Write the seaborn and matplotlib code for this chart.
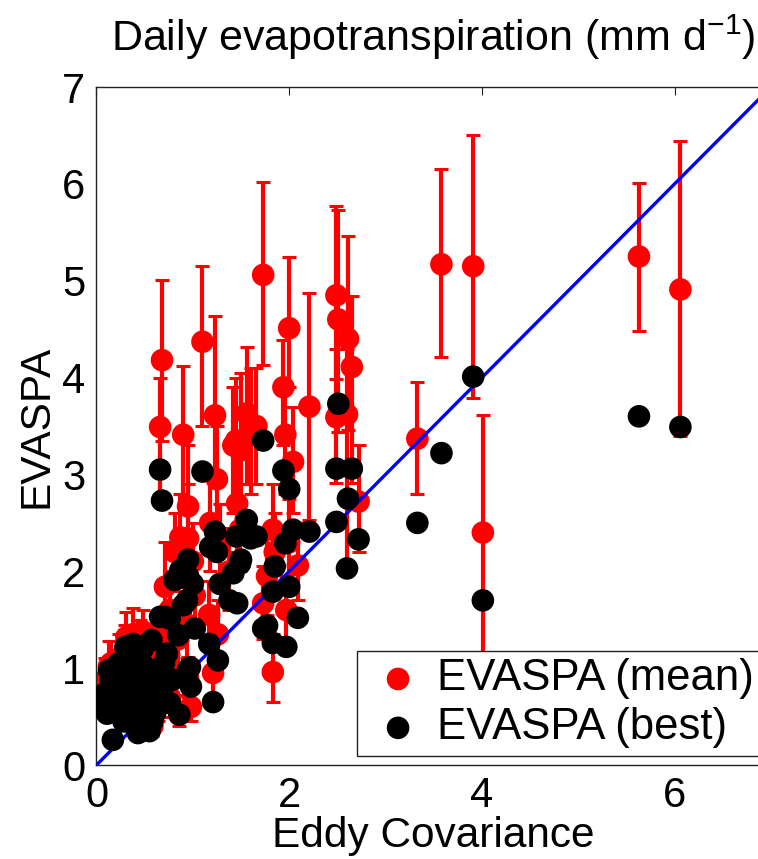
import numpy as np
import pandas as pd
import seaborn as sns
import matplotlib.pyplot as plt

# Eddy covariance ET, EVASPA mean (with lower/upper bounds) and EVASPA best, mm/d
ec = [3.33, 3.58, 3.91, 4.01, 5.63, 6.06,
      2.49, 2.51, 2.61, 2.65, 2.49, 2.60, 2.72,
      1.21, 1.26, 1.17, 1.02, 1.83, 1.97, 1.73, 1.77, 2.09, 2.00, 1.83, 1.85,
      0.66, 0.68, 0.90, 1.10, 1.23, 1.56, 1.45, 1.50, 1.60, 1.42, 1.66,
      0.95, 0.95, 0.97, 0.87, 0.81, 1.00, 0.94, 1.38, 1.28, 1.18, 1.25,
      1.49, 1.46, 0.71, 0.76, 1.94, 1.96, 2.04, 2.00, 2.21, 1.73,
      0.17, 0.43, 0.11, 0.09, 0.13, 0.30, 0.57, 0.57, 0.33, 0.61, 0.38,
      0.79, 0.23, 0.47, 0.73, 0.66, 0.85, 0.95, 0.98, 0.76, 0.38, 0.15,
      0.20, 0.27, 0.35, 0.42, 0.50, 0.52, 0.45, 0.62, 0.25, 0.40, 0.55,
      0.68, 0.31, 0.48, 0.20, 0.64, 0.70, 0.86, 0.05, 0.36, 0.58, 0.28]
evaspa_mean = [3.37, 5.17, 5.15, 2.40, 5.25, 4.91,
               4.85, 4.60, 4.40, 4.11, 3.59, 3.62, 2.72,
               0.95, 1.35, 1.55, 1.75, 0.96, 1.60, 1.67, 1.95, 2.06, 2.30, 2.43, 2.20,
               3.49, 4.18, 3.41, 4.37, 3.61, 3.63, 3.35, 3.25, 3.43, 3.30, 3.50,
               2.67, 2.34, 1.90, 2.35, 2.20, 2.10, 1.45, 2.00, 2.25, 2.50, 2.95,
               2.43, 2.70, 1.84, 1.60, 3.90, 3.41, 3.13, 4.51, 3.70, 5.06,
               0.72, 0.62, 0.78, 0.88, 1.02, 1.20, 1.18, 0.95, 0.85, 0.70, 0.65,
               0.92, 1.10, 1.08, 1.05, 1.40, 1.30, 0.90, 0.60, 0.70, 1.35, 1.05,
               0.60, 0.95, 1.15, 0.80, 0.55, 0.90, 1.25, 1.00, 0.75, 0.50, 0.45,
               0.85, 1.32, 1.38, 0.85, 0.62, 1.20, 0.55, 0.70, 0.72, 0.40, 0.55]
evaspa_low = [2.80, 4.21, 3.79, 0.90, 4.48, 3.40,
              3.99, 3.44, 3.46, 2.91, 2.91, 1.99, 2.20,
              0.70, 1.05, 1.20, 1.40, 0.65, 1.25, 1.30, 1.55, 1.70, 1.90, 2.00, 1.80,
              2.80, 3.35, 2.60, 3.50, 2.90, 2.90, 2.70, 2.55, 2.80, 2.60, 2.90,
              2.10, 1.80, 1.50, 1.90, 1.80, 1.70, 1.10, 1.60, 1.85, 2.00, 2.40,
              2.00, 2.20, 1.40, 1.20, 3.30, 2.80, 2.60, 3.90, 2.53, 4.13,
              0.55, 0.45, 0.60, 0.70, 0.80, 0.95, 0.95, 0.75, 0.65, 0.50, 0.48,
              0.70, 0.85, 0.85, 0.80, 1.15, 1.05, 0.70, 0.45, 0.50, 1.10, 0.85,
              0.45, 0.75, 0.92, 0.60, 0.40, 0.70, 1.00, 0.80, 0.58, 0.35, 0.32,
              0.65, 1.10, 1.15, 0.68, 0.45, 0.98, 0.40, 0.55, 0.55, 0.30, 0.42]
evaspa_high = [3.95, 6.15, 6.50, 3.61, 6.01, 6.44,
               5.77, 5.73, 5.46, 4.84, 4.30, 4.30, 3.30,
               1.30, 1.70, 1.90, 2.10, 1.35, 1.95, 2.05, 2.35, 2.50, 2.75, 2.90, 2.60,
               4.00, 5.01, 4.12, 5.15, 4.64, 4.32, 4.00, 4.05, 4.10, 3.90, 4.10,
               3.30, 2.90, 2.30, 2.80, 2.60, 2.50, 1.80, 2.45, 2.70, 3.00, 3.50,
               2.90, 3.20, 2.30, 2.00, 4.39, 3.90, 3.70, 5.25, 4.87, 6.02,
               0.95, 0.80, 1.00, 1.10, 1.28, 1.45, 1.45, 1.20, 1.10, 0.90, 0.85,
               1.15, 1.35, 1.30, 1.30, 1.60, 1.55, 1.12, 0.78, 0.92, 1.62, 1.28,
               0.78, 1.20, 1.40, 1.00, 0.72, 1.12, 1.50, 1.25, 0.95, 0.68, 0.60,
               1.05, 1.58, 1.60, 1.05, 0.82, 1.42, 0.72, 0.88, 0.92, 0.55, 0.70]
evaspa_best = [2.50, 3.22, 4.01, 1.70, 3.60, 3.49,
               3.06, 3.73, 2.75, 3.06, 2.51, 2.03, 2.33,
               0.65, 1.08, 1.25, 1.41, 1.26, 1.22, 1.41, 1.44, 1.52, 1.84, 1.79, 2.05,
               3.05, 2.73, 1.65, 3.03, 2.41, 2.53, 2.36, 2.12, 2.34, 1.98, 2.36,
               1.95, 2.12, 1.01, 2.01, 1.91, 1.87, 1.70, 1.70, 1.87, 2.25, 2.20,
               2.08, 1.67, 1.53, 1.51, 3.04, 2.29, 2.43, 2.85, 2.41, 3.35,
               0.26, 0.33, 0.53, 0.74, 0.98, 1.22, 1.29, 0.98, 0.77, 0.54, 0.46,
               0.88, 1.05, 1.05, 1.15, 1.53, 1.34, 0.98, 0.81, 0.64, 1.25, 0.88,
               0.65, 0.92, 1.02, 0.85, 0.62, 0.75, 1.15, 0.92, 0.58, 0.40, 0.35,
               0.78, 1.12, 1.20, 0.82, 0.68, 1.05, 0.52, 0.65, 0.60, 0.45, 0.45]

df = pd.DataFrame({"ec": ec, "mean": evaspa_mean, "low": evaspa_low,
                   "high": evaspa_high, "best": evaspa_best})

sns.set_style("white")
plt.rcParams["font.family"] = ["Liberation Sans", "DejaVu Sans"]
plt.rcParams["mathtext.default"] = "regular"
plt.rcParams["text.color"] = "black"
plt.rcParams["axes.labelcolor"] = "black"
plt.rcParams["xtick.labelcolor"] = "black"
plt.rcParams["ytick.labelcolor"] = "black"

fig = plt.figure(figsize=(7.58, 8.59), dpi=100)
ax = fig.add_axes([0.1273, 0.1094, 0.8898, 0.7893])

yerr = [df["mean"] - df["low"], df["high"] - df["mean"]]
ax.errorbar(df["ec"], df["mean"], yerr=yerr, fmt="none", ecolor="#ff0000",
            elinewidth=3, capsize=4.8, capthick=2.2, zorder=2)
sns.scatterplot(data=df, x="ec", y="mean", color="#ff0000", s=265,
                edgecolor="none", label="EVASPA (mean)", ax=ax, zorder=2)
ax.axline((0, 0), slope=1, color="#0000ff", lw=2.4, zorder=3)
sns.scatterplot(data=df, x="ec", y="best", color="black", s=265,
                edgecolor="none", label="EVASPA (best)", ax=ax, zorder=4)

ax.set_xlim(0, 7)
ax.set_ylim(0, 7)
ax.set_xticks([0, 2, 4, 6])
ax.set_yticks(range(8))
ax.tick_params(direction="in", top=True, right=True, length=6, width=0.8,
               color="#222222", labelsize=30, pad=8)
for sp in ax.spines.values():
    sp.set_visible(True)
    sp.set_color("#222222")
    sp.set_linewidth(1.0)

ax.set_xlabel("Eddy Covariance", fontsize=30.5)
ax.set_ylabel("EVASPA", fontsize=30.5)
ax.xaxis.set_label_coords(0.5, -0.075)
ax.yaxis.set_label_coords(-0.06, 0.5)
ax.set_title("Daily evapotranspiration (mm d$^{-1}$)", fontsize=31, pad=26)

leg = ax.legend(loc="lower right", bbox_to_anchor=(0.987, 0.013), borderaxespad=0,
                fontsize=31.5, frameon=True, fancybox=False, handlelength=1.5,
                handletextpad=0.15, borderpad=0.18, labelspacing=0.18)
leg.get_frame().set_edgecolor("#222222")
leg.get_frame().set_linewidth(1.0)
leg.get_frame().set_alpha(1)

fig.savefig("out.png", dpi=100)
plt.close(fig)
